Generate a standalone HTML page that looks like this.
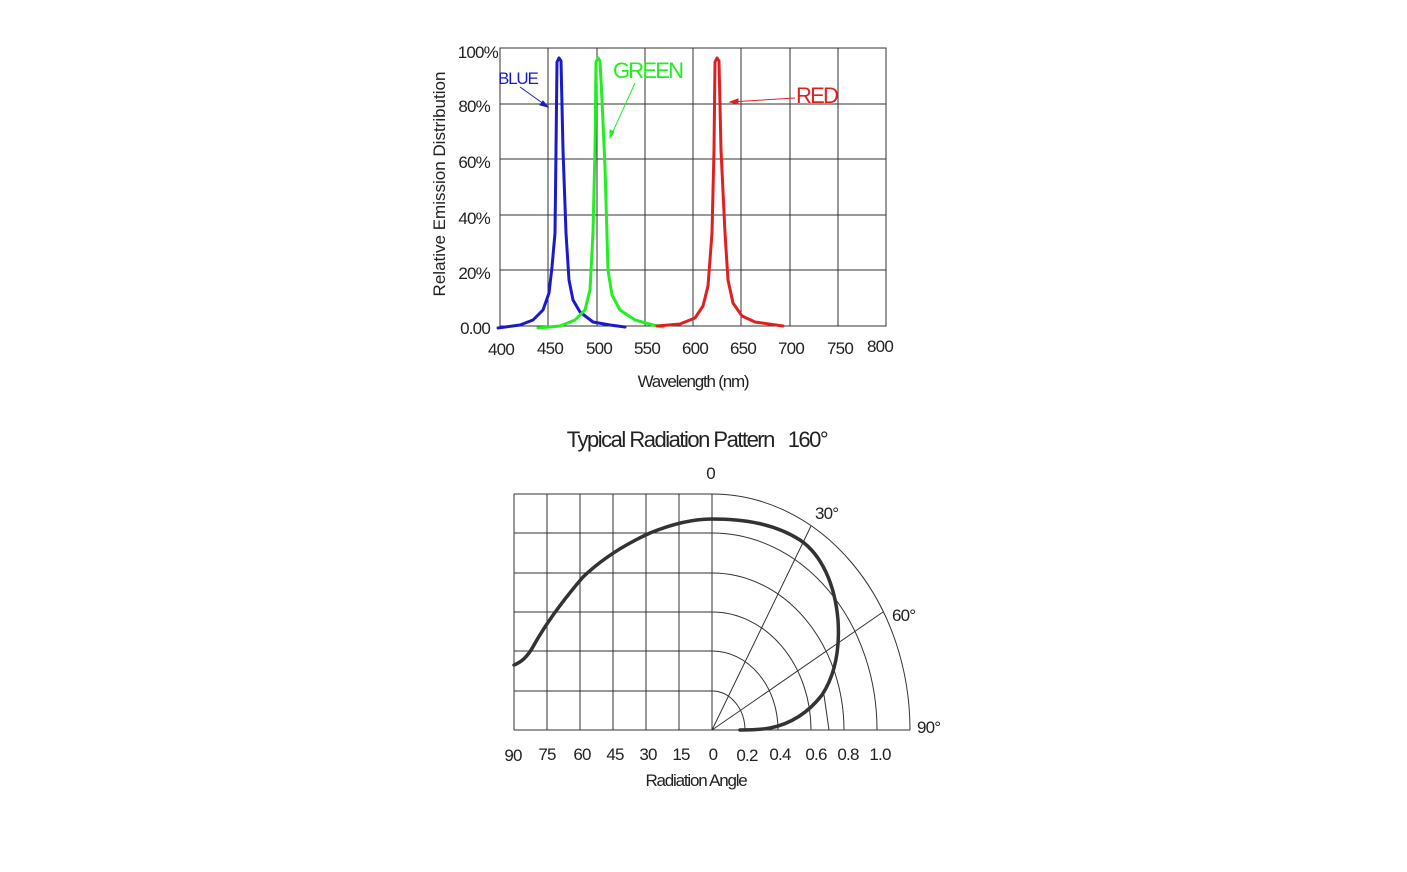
<!DOCTYPE html>
<html><head><meta charset="utf-8"><style>
html,body{margin:0;padding:0;background:#fff;}
svg{display:block;font-family:"Liberation Sans",sans-serif;}
</style></head><body>
<svg width="1407" height="872" viewBox="0 0 1407 872" xmlns="http://www.w3.org/2000/svg">
<rect width="1407" height="872" fill="#fff"/>
<g stroke="#333" stroke-width="1" fill="none">
<rect x="500" y="48" width="386" height="278"/>
<path d="M548 48V326M597 48V326M645 48V326M693 48V326M741 48V326M790 48V326M838 48V326"/>
<path d="M500 104H886M500 159H886M500 215H886M500 270H886"/>
</g>
<g fill="none" stroke-width="3" stroke-linejoin="round" stroke-linecap="round">
<polyline stroke="#1a1acc" points="498,328 520,325 533,320 543,310 549,293 552,267 555,233 556,150 557,62 559,58 561,61 563,150 566,233 569,280 573,300 580,312 593,322 610,325 625,327"/>
<polyline stroke="#22ee22" points="538,328 560,326 575,320 585,310 590,290 593,233 595,150 596,62 598,58 600,61 602,100 605,167 608,270 612,295 620,310 635,320 653,325 663,327"/>
<polyline stroke="#e02020" points="657,326 680,324 695,318 703,306 708,286 712,233 714,150 715,62 717,58 719,61 721,150 725,233 728,280 733,303 742,316 755,322 783,326"/>
</g>
<g stroke-width="1" fill="none">
<path d="M520 87L548 107" stroke="#1a1acc"/><path d="M548 107l-8-2 3-4z" fill="#1a1acc" stroke="#1a1acc"/>
<path d="M635 83L610 138" stroke="#22ee22"/><path d="M610 138l0-8 4 2z" fill="#22ee22" stroke="#22ee22"/>
<path d="M795 98L730 102" stroke="#e02020"/><path d="M730 102l8-3 0 5z" fill="#e02020" stroke="#e02020"/>
</g>
<text x="498" y="84" font-size="17" fill="#1a1acc" letter-spacing="-1.2">BLUE</text>
<text x="613" y="78" font-size="22" fill="#22ee22" letter-spacing="-1.8">GREEN</text>
<text x="796" y="103" font-size="22" fill="#e02020" letter-spacing="-1.8">RED</text>
<g font-size="17" fill="#222" text-anchor="end" letter-spacing="-0.8">
<text x="498" y="58">100%</text><text x="490" y="112">80%</text><text x="490" y="168">60%</text>
<text x="490" y="224">40%</text><text x="490" y="279">20%</text><text x="490" y="334">0.00</text>
</g>
<g font-size="17" fill="#222" text-anchor="middle" letter-spacing="-0.8">
<text x="501" y="355">400</text><text x="550" y="354">450</text><text x="599" y="354">500</text>
<text x="647" y="354">550</text><text x="695" y="354">600</text><text x="743" y="354">650</text>
<text x="791" y="354">700</text><text x="840" y="354">750</text><text x="880" y="352">800</text>
<text x="693" y="387" letter-spacing="-1.2">Wavelength (nm)</text>
</g>
<text transform="translate(445,184) rotate(-90)" font-size="17" fill="#222" text-anchor="middle">Relative Emission Distribution</text>
<text x="697" y="447" font-size="22" fill="#222" text-anchor="middle" letter-spacing="-1.5">Typical Radiation Pattern &#160; 160°</text>
<text x="711" y="479" font-size="17" fill="#222" text-anchor="middle">0</text>
<g stroke="#333" stroke-width="1" fill="none">
<path d="M514 494H712M514 533H712M514 573H712M514 612H712M514 651H712M514 691H712M514 730H910"/>
<path d="M514 494V730M547 494V730M580 494V730M613 494V730M646 494V730M679 494V730M712 494V730"/>
<path d="M712 691A33 39.3 0 0 1 745 730"/>
<path d="M712 651A66 78.7 0 0 1 778 730"/>
<path d="M712 612A99 118 0 0 1 811 730"/>
<path d="M712 573A132 157.3 0 0 1 844 730"/>
<path d="M712 533A165 196.7 0 0 1 877 730"/>
<path d="M712 494A198 236 0 0 1 910 730"/>
<path d="M824 695L829 730"/>
<path d="M712 730L811 526M712 730L883 612"/>
</g>
<path d="M514 665C522 662 528 656 534 645C548 620 565 598 583 577C605 556 628 543 650 533C672 524 692 519 712 519C745 519 775 524 800 540C822 555 835 585 838 620C840 650 835 675 822 695C808 713 790 724 770 728C760 730 748 730 740 730" fill="none" stroke="#333" stroke-width="3.5" stroke-linecap="round"/>
<g font-size="17" fill="#222" letter-spacing="-0.8">
<text x="815" y="519">30°</text><text x="892" y="621">60°</text><text x="917" y="733">90°</text>
</g>
<g font-size="17" fill="#222" text-anchor="middle" letter-spacing="-0.8">
<text x="513" y="761">90</text><text x="547" y="760">75</text><text x="582" y="760">60</text>
<text x="615" y="760">45</text><text x="648" y="760">30</text><text x="681" y="760">15</text>
<text x="713" y="760">0</text><text x="747" y="761">0.2</text><text x="780" y="760">0.4</text>
<text x="816" y="760">0.6</text><text x="848" y="760">0.8</text><text x="880" y="760">1.0</text>
<text x="696" y="786" letter-spacing="-1.2">Radiation Angle</text>
</g>
</svg>
</body></html>
